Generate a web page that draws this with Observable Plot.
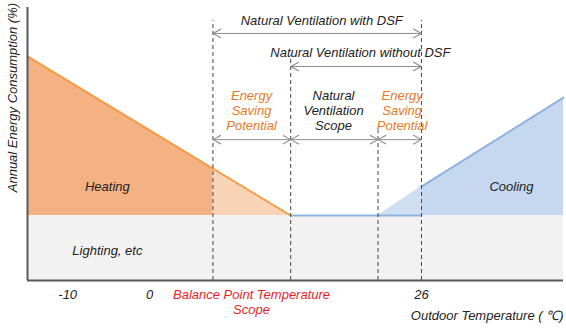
<!DOCTYPE html>
<html><head><meta charset="utf-8">
<script src="https://cdn.jsdelivr.net/npm/d3@7"></script>
<script src="https://cdn.jsdelivr.net/npm/@observablehq/plot@0.6"></script>
<style>html,body{margin:0;padding:0;background:#fff} svg{display:block}</style>
</head><body><div id="chart"></div>
<script>
// Schematic chart: x is a schematic outdoor-temperature axis (0–100), y is annual energy (%).
const heatX = [0, 34.6, 49.1];
const heatY = [82.1, 41.0, 23.8];
const coolX = [65.4, 73.5, 100];
const coolY = [23.8, 34.4, 67.0];
const baseLoad = 23.8;
const bounds = [34.6, 49.1, 65.4, 73.5]; // balance point / ventilation boundaries
const tickLabels = ["-10", "0", "26"];
const tickPos = [7.5, 22.8, 73.5];

const heat = heatX.map((x, i) => ({x, y: heatY[i]}));
const cool = coolX.map((x, i) => ({x, y: coolY[i]}));
const heatSolid = heat.slice(0, 2), heatDot = heat.slice(1, 3);
const coolDot = cool.slice(0, 2), coolSolid = cool.slice(1, 3);

const ORANGE_FILL = "#f4b183", ORANGE_LINE = "#f39a45";
const BLUE_FILL = "#c6d8ef", BLUE_LINE = "#8fb3e0";
const ORANGE_TXT = "#e8781e", RED_TXT = "#ee1c25";
const font = "Liberation Sans, Arial, sans-serif";
const txt = {fontStyle: "italic", fontSize: 13, fill: "#222"};

const svg = Plot.plot({
  width: 566, height: 328,
  marginLeft: 27, marginRight: 3, marginTop: 7, marginBottom: 48,
  x: {domain: [0, 100], axis: null},
  y: {domain: [0, 100], axis: null},
  style: {fontFamily: font, background: "#fff"},
  marks: [
    // base load (lighting)
    Plot.areaY([{x: 0}, {x: 100}], {x: "x", y1: 0, y2: baseLoad, fill: "#f2f2f2"}),
    // heating
    Plot.areaY(heatSolid, {x: "x", y1: baseLoad, y2: "y", fill: ORANGE_FILL}),
    Plot.areaY(heatDot, {x: "x", y1: baseLoad, y2: "y", fill: "url(#dotO)"}),
    // cooling
    Plot.areaY(coolSolid, {x: "x", y1: baseLoad, y2: "y", fill: BLUE_FILL}),
    Plot.areaY(coolDot, {x: "x", y1: baseLoad, y2: "y", fill: "url(#dotB)"}),
    // outlines
    Plot.line([{x: heatX[2], y: baseLoad}, {x: coolX[1], y: baseLoad}], {x: "x", y: "y", stroke: BLUE_LINE, strokeWidth: 2}),
    Plot.line(heatSolid, {x: "x", y: "y", stroke: ORANGE_LINE, strokeWidth: 2}),
    Plot.line(heatDot, {x: "x", y: "y", stroke: ORANGE_LINE, strokeWidth: 2, strokeDasharray: "2,2"}),
    Plot.line(coolSolid, {x: "x", y: "y", stroke: BLUE_LINE, strokeWidth: 2}),
    // boundaries
    Plot.ruleX(bounds, {x: d => d, y1: 0, y2: (d, i) => [95.2, 82.4, 54.9, 95.2][i], stroke: "#444", strokeDasharray: "4,3", strokeWidth: 1}),
    // double arrows
    Plot.link([
      {a: bounds[0], b: bounds[3], y: 90.5},
      {a: bounds[1], b: bounds[3], y: 78.4},
      {a: bounds[0], b: bounds[1], y: 51.6},
      {a: bounds[1], b: bounds[2], y: 51.6},
      {a: bounds[2], b: bounds[3], y: 51.6}
    ], {x1: "a", x2: "b", y1: "y", y2: "y", stroke: "#8c8c8c", strokeWidth: 1, markerStart: "arrow", markerEnd: "arrow"}),
    // axes lines
    Plot.ruleX([0], {y1: 0, y2: 100, stroke: "#595959", strokeWidth: 2}),
    Plot.ruleY([0], {x1: 0, x2: 100, stroke: "#595959", strokeWidth: 2}),
    // annotations
    Plot.text(["Natural Ventilation with DSF"], {x: 54.9, y: 95.2, text: d => d, ...txt}),
    Plot.text(["Natural Ventilation without DSF"], {x: 62.1, y: 83.5, text: d => d, ...txt}),
    Plot.text(["Energy\nSaving\nPotential"], {x: 41.8, y: 62.3, text: d => d, ...txt, fill: ORANGE_TXT, lineHeight: 1.15}),
    Plot.text(["Natural\nVentilation\nScope"], {x: 57.1, y: 62.3, text: d => d, ...txt, lineHeight: 1.15}),
    Plot.text(["Energy\nSaving\nPotential"], {x: 69.9, y: 62.3, text: d => d, ...txt, fill: ORANGE_TXT, lineHeight: 1.15}),
    Plot.text(["Heating"], {x: 14.9, y: 34.4, text: d => d, ...txt}),
    Plot.text(["Cooling"], {x: 90.3, y: 34.4, text: d => d, ...txt}),
    Plot.text(["Lighting, etc"], {x: 14.9, y: 11, text: d => d, ...txt}),
    // x tick labels
    Plot.text(tickLabels, {x: (d, i) => tickPos[i], y: -5.1, text: d => d, ...txt}),
    Plot.text(["Balance Point Temperature\nScope"], {x: 41.8, y: -7.9, text: d => d, ...txt, fill: RED_TXT, lineHeight: 1.15}),
    Plot.text(["Outdoor Temperature ( \u2103)"], {x: 100, y: -12.8, text: d => d, ...txt, textAnchor: "end"}),
    Plot.text(["Annual Energy Consumption (%)"], {x: -2.8, y: 67, text: d => d, ...txt, rotate: -90})
  ]
});

// patterns
const defs = d3.select(svg).insert("defs", ":first-child");
function pattern(id, color) {
  const p = defs.append("pattern").attr("id", id).attr("patternUnits", "userSpaceOnUse")
    .attr("width", 2).attr("height", 2).attr("x", 0.5).attr("y", 0.5);
  p.append("rect").attr("width", 2).attr("height", 2).attr("fill", "#fff");
  p.append("rect").attr("width", 1).attr("height", 1).attr("fill", color);
  p.append("rect").attr("x", 1).attr("y", 1).attr("width", 1).attr("height", 1).attr("fill", color);
}
pattern("dotO", "#f0a66c");
pattern("dotB", "#9ebde3");

// larger open chevron arrowheads pointing outward at both ends
d3.select(svg).selectAll("marker")
  .attr("orient", "auto-start-reverse")
  .attr("markerWidth", 16).attr("markerHeight", 16).attr("stroke-width", 0.7)
  .select("path").attr("d", "M-5,-2.7L0,0L-5,2.7");

document.getElementById("chart").appendChild(svg);
</script>
</body></html>
